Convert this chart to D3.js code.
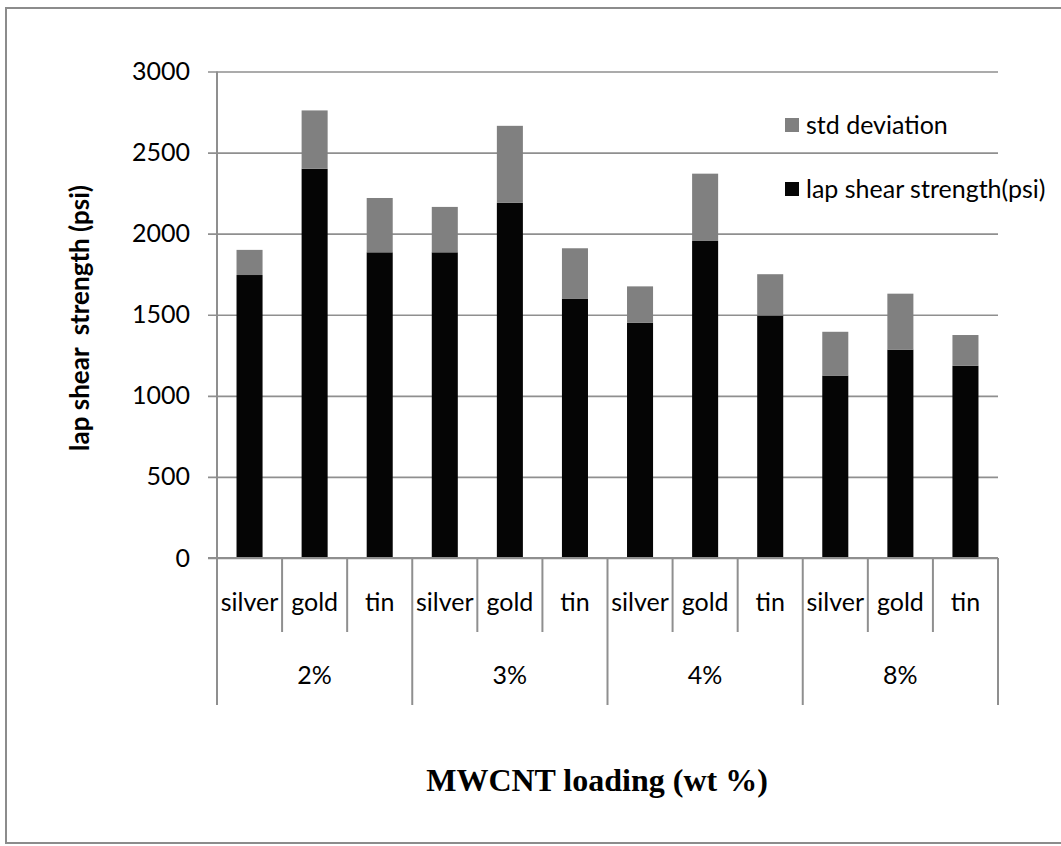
<!DOCTYPE html>
<html>
<head>
<meta charset="utf-8">
<script src="https://cdn.jsdelivr.net/npm/d3@7"></script>
<style>
  html, body { margin: 0; padding: 0; background: #fff; }
  svg { display: block; }
</style>
</head>
<body>
<svg id="chart" width="1061" height="846"></svg>
<script>
// data
const groups = ['2%', '3%', '4%', '8%']
const metals = ['silver', 'gold', 'tin']
const strength = [1745, 2400, 1885, 1885, 2190, 1600, 1450, 1955, 1495, 1125, 1285, 1185]
const stdDev = [155, 360, 335, 280, 475, 310, 225, 415, 255, 270, 345, 190]
const yTicks = [0, 500, 1000, 1500, 2000, 2500, 3000]
const seriesNames = ['std deviation', 'lap shear strength(psi)']

const settings = {
  margin: { top: 71.5, left: 217, bottom: 288, right: 63 },
  width: 1061,
  height: 846,
  black: '#050505',
  grey: '#808080',
  lineColor: '#8f8f8f',
  font: 'Lato, "Liberation Sans", Arial, sans-serif'
}

const innerwidth = settings.width - settings.margin.left - settings.margin.right,
  innerheight = settings.height - settings.margin.top - settings.margin.bottom

// one row per bar
const rows = []
groups.forEach((g, gi) => {
  metals.forEach((m, mi) => {
    const i = gi * metals.length + mi
    rows.push({ key: g + '-' + m, group: g, metal: m, value: strength[i], std: stdDev[i] })
  })
})

const svg = d3.select('#chart')

// outer frame
svg.append('rect')
  .attr('x', 6).attr('y', 8)
  .attr('width', 1100).attr('height', 835)
  .attr('fill', 'none')
  .attr('stroke', '#8c8c8c')
  .attr('stroke-width', 2)

const canvas = svg.append('g')
  .attr('transform', `translate(${settings.margin.left},${settings.margin.top})`)

const xScale = d3.scaleBand().domain(rows.map(d => d.key)).range([0, innerwidth]).paddingInner(0).paddingOuter(0)
const groupScale = d3.scaleBand().domain(groups).range([0, innerwidth])
const yScale = d3.scaleLinear().domain([0, 3000]).range([innerheight, 0])

// gridlines + y ticks
const yAxis = d3.axisLeft(yScale).tickValues(yTicks).tickFormat(d3.format('d')).tickSize(-innerwidth).tickSizeOuter(0)
const yAxisGroup = canvas.append('g').call(yAxis)
yAxisGroup.select('.domain').remove()
yAxisGroup.selectAll('.tick line')
  .attr('x1', -9)
  .attr('stroke', settings.lineColor)
  .attr('stroke-width', 1.6)
yAxisGroup.selectAll('.tick text')
  .attr('x', -27)
  .attr('font-family', settings.font)
  .attr('font-size', '25px')
  .attr('fill', '#000')

// stacked bars
const stack = d3.stack().keys(['value', 'std'])(rows)
const barW = xScale.bandwidth() * 0.4
const colors = { value: settings.black, std: settings.grey }

canvas.selectAll('.layer')
  .data(stack)
  .enter()
  .append('g')
  .attr('class', 'layer')
  .attr('fill', s => colors[s.key])
  .selectAll('rect')
  .data(s => s)
  .enter()
  .append('rect')
  .attr('x', d => xScale(d.data.key) + (xScale.bandwidth() - barW) / 2)
  .attr('width', barW)
  .attr('y', d => yScale(d[1]))
  .attr('height', d => yScale(d[0]) - yScale(d[1]))

// y axis line
canvas.append('line')
  .attr('x1', 0).attr('x2', 0)
  .attr('y1', 0).attr('y2', innerheight + 147)
  .attr('stroke', settings.lineColor)
  .attr('stroke-width', 2)

// category dividers under the axis
const catDepth = 74, groupDepth = 147
const bounds = rows.map((d, i) => i).concat([rows.length])
canvas.selectAll('.divider')
  .data(bounds)
  .enter()
  .append('line')
  .attr('class', 'divider')
  .attr('x1', i => i * xScale.step())
  .attr('x2', i => i * xScale.step())
  .attr('y1', innerheight)
  .attr('y2', i => innerheight + (i % metals.length === 0 ? groupDepth : catDepth))
  .attr('stroke', settings.lineColor)
  .attr('stroke-width', 2)

// baseline
canvas.append('line')
  .attr('x1', -9).attr('x2', innerwidth)
  .attr('y1', innerheight).attr('y2', innerheight)
  .attr('stroke', settings.lineColor)
  .attr('stroke-width', 2)

// metal labels
canvas.selectAll('.metal')
  .data(rows)
  .enter()
  .append('text')
  .attr('class', 'metal')
  .attr('x', d => xScale(d.key) + xScale.bandwidth() / 2)
  .attr('y', innerheight + 44)
  .attr('dy', '0.35em')
  .attr('text-anchor', 'middle')
  .attr('font-family', settings.font)
  .attr('font-size', '25px')
  .text(d => d.metal)

// group labels
canvas.selectAll('.group')
  .data(groups)
  .enter()
  .append('text')
  .attr('class', 'group')
  .attr('x', g => groupScale(g) + groupScale.bandwidth() / 2)
  .attr('y', innerheight + 117)
  .attr('dy', '0.35em')
  .attr('text-anchor', 'middle')
  .attr('font-family', settings.font)
  .attr('font-size', '25px')
  .text(g => g)

// legend
const legend = svg.append('g').attr('transform', 'translate(785,118)')
const legendColors = [settings.grey, settings.black]
seriesNames.forEach((name, i) => {
  const row = legend.append('g').attr('transform', `translate(0,${i * 64})`)
  row.append('rect').attr('width', 14).attr('height', 14).attr('fill', legendColors[i])
  row.append('text')
    .attr('x', 21).attr('y', 7)
    .attr('dy', '0.35em')
    .attr('font-family', settings.font)
    .attr('font-size', '25px')
    .text(name)
})

// axis titles
svg.append('text')
  .attr('transform', 'translate(80,318) rotate(-90)')
  .attr('text-anchor', 'middle')
  .attr('dy', '0.35em')
  .attr('font-family', settings.font)
  .attr('font-weight', 'bold')
  .attr('font-size', '26px')
  .style('white-space', 'pre')
  .text('lap shear  strength (psi)')

svg.append('text')
  .attr('x', 597).attr('y', 780)
  .attr('text-anchor', 'middle')
  .attr('dy', '0.35em')
  .attr('font-family', '"Liberation Serif", "Times New Roman", serif')
  .attr('font-weight', 'bold')
  .attr('font-size', '32px')
  .text('MWCNT loading (wt %)')
</script>
</body>
</html>
